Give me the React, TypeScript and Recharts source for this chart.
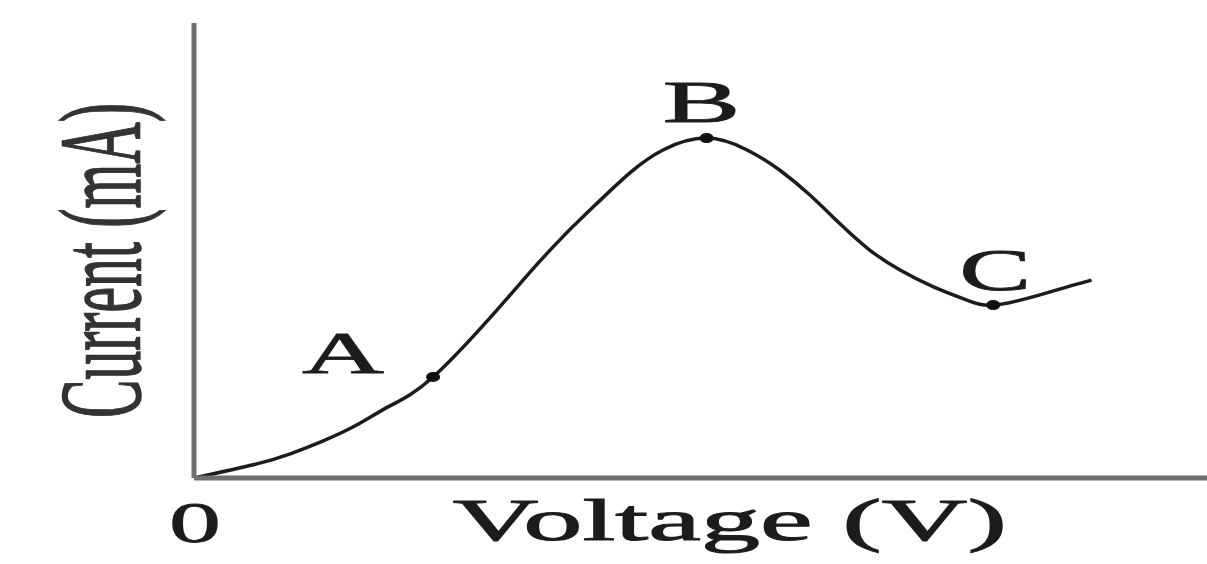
import { LabelList, Line, LineChart, XAxis, YAxis } from 'recharts'

// values (axis units 0..10 on both axes)
const voltage = [0, 0.62, 0.95, 1.27, 1.61, 1.93, 2.36, 2.99, 3.32, 3.64, 3.98, 4.3, 4.63, 5.06, 5.46, 5.78, 6.08, 6.38, 6.67, 6.97, 7.3, 7.63, 7.89, 8.28, 8.62, 8.86]
const current = [0, 0.31, 0.53, 0.81, 1.17, 1.58, 2.22, 3.69, 4.53, 5.3, 6.04, 6.7, 7.21, 7.47, 7.21, 6.77, 6.22, 5.58, 5.01, 4.57, 4.2, 3.91, 3.8, 3.98, 4.2, 4.35]
const marks: Record<number, string> = { 6: 'A', 13: 'B', 22: 'C' }
const xTicks = [0]

const X_TITLE = 'Voltage (V)'
const Y_TITLE = 'Current (mA)'

const FONT = '"Liberation Serif", "Times New Roman", serif'
const INK = '#1c1c1c'
const AXIS = '#6f6f6f'

// where each letter sits relative to its dot, and how wide it is stretched
const markStyle: Record<string, { dx: number; dy: number; len: number }> = {
  A: { dx: -90, dy: -4, len: 82 },
  B: { dx: -5, dy: -16, len: 78 },
  C: { dx: 2, dy: -15, len: 72 },
}

const data = voltage.map((v, i) => ({
  voltage: v,
  current: current[i],
  mark: marks[i] ?? '',
}))

function MarkDot(props: any) {
  const { cx, cy, payload } = props
  if (!payload?.mark) return <g key={`d${props.index}`} />
  return <ellipse key={`d${props.index}`} cx={cx} cy={cy} rx={7} ry={5} fill="#111" />
}

function MarkLabel(props: any) {
  const { x, y, value } = props
  if (!value) return null
  const s = markStyle[value]
  return (
    <text
      x={x + s.dx}
      y={y + s.dy}
      textAnchor="middle"
      fontFamily={FONT}
      fontSize={60}
      fill={INK}
      stroke={INK}
      strokeWidth={0.8}
      textLength={s.len}
      lengthAdjust="spacingAndGlyphs"
    >
      {value}
    </text>
  )
}

function ZeroTick(props: any) {
  const { x, y, payload } = props
  return (
    <text
      x={x + 1}
      y={y + 56}
      textAnchor="middle"
      fontFamily={FONT}
      fontSize={58}
      fill={INK}
      stroke={INK}
      strokeWidth={0.8}
      textLength={52}
      lengthAdjust="spacingAndGlyphs"
    >
      {payload.value}
    </text>
  )
}

function XTitle(props: any) {
  const { viewBox } = props
  const cx = viewBox.x + viewBox.width * 0.529
  return (
    <text
      x={cx}
      y={viewBox.y + 62}
      textAnchor="middle"
      fontFamily={FONT}
      fontSize={60}
      fill={INK}
      stroke={INK}
      strokeWidth={1}
      textLength={554}
      lengthAdjust="spacingAndGlyphs"
    >
      {X_TITLE}
    </text>
  )
}

function YTitle(props: any) {
  const { viewBox } = props
  const bx = viewBox.x + viewBox.width - 54
  const cy = viewBox.y + viewBox.height * 0.522
  return (
    <text
      x={bx}
      y={cy}
      transform={`rotate(-90, ${bx}, ${cy})`}
      textAnchor="middle"
      fontFamily={FONT}
      fontSize={116}
      fill="#333"
      stroke="#333"
      strokeWidth={1.6}
      textLength={315}
      lengthAdjust="spacingAndGlyphs"
    >
      {Y_TITLE}
    </text>
  )
}

export default function App() {
  return (
    <div style={{ position: 'absolute', left: 0, top: 0, width: 1207, height: 564, background: '#fff' }}>
      <LineChart
        width={1207}
        height={564}
        data={data}
        margin={{ top: 23, right: 0, bottom: 85, left: 193 }}
      >
        <XAxis
          dataKey="voltage"
          type="number"
          domain={[0, 10]}
          ticks={xTicks}
          tick={<ZeroTick />}
          tickLine={false}
          axisLine={{ stroke: AXIS, strokeWidth: 5 }}
          height={1}
          label={{ content: <XTitle /> }}
        />
        <YAxis
          type="number"
          domain={[0, 10]}
          tick={false}
          tickLine={false}
          axisLine={{ stroke: AXIS, strokeWidth: 5 }}
          width={1}
          label={{ content: <YTitle /> }}
        />
        <Line
          dataKey="current"
          type="natural"
          stroke={INK}
          strokeWidth={3.5}
          dot={<MarkDot />}
          activeDot={false}
          isAnimationActive={false}
        >
          <LabelList dataKey="mark" content={<MarkLabel />} />
        </Line>
      </LineChart>
    </div>
  )
}
